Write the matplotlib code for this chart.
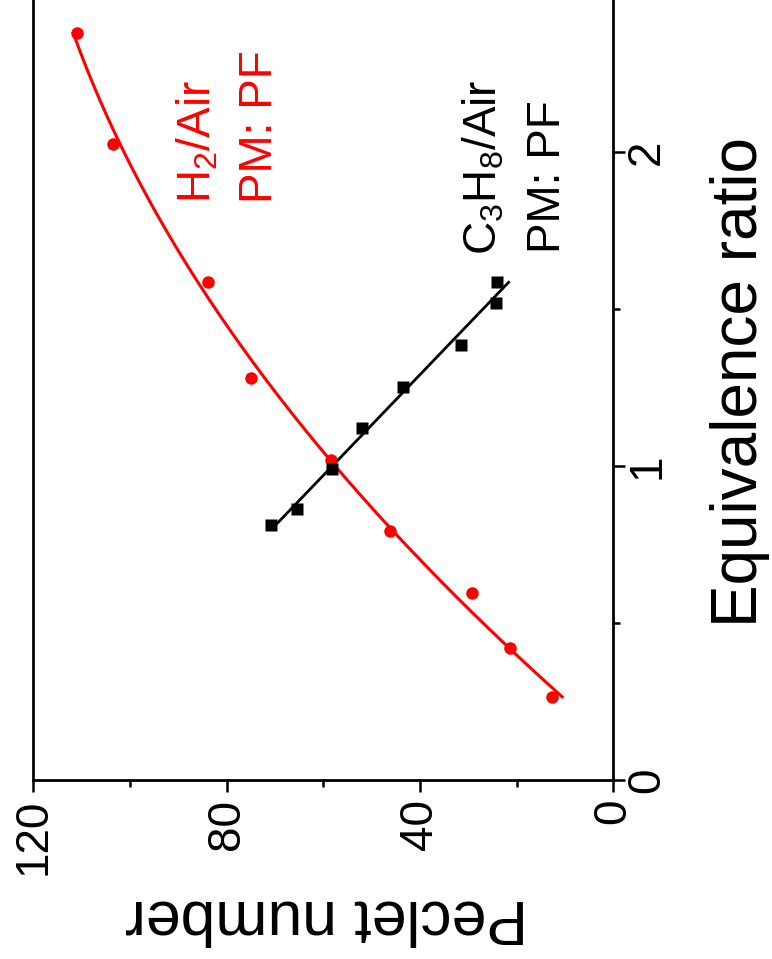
import matplotlib
matplotlib.use("Agg")
import matplotlib.pyplot as plt
import numpy as np
from matplotlib.ticker import MultipleLocator

plt.rcParams['font.family'] = ['Liberation Sans', 'DejaVu Sans']
plt.rcParams['mathtext.fontset'] = 'custom'
plt.rcParams['mathtext.rm'] = 'Liberation Sans'

# H2/Air, porous medium PF
h2_phi = [0.265, 0.419, 0.595, 0.793, 1.019, 1.279, 1.585, 2.025, 2.378]
h2_pe = [12.7, 21.3, 29.3, 46.2, 58.4, 75.0, 83.9, 103.5, 110.9]

# C3H8/Air, porous medium PF
c3_phi = [0.812, 0.863, 0.989, 1.120, 1.252, 1.384, 1.518, 1.585]
c3_pe = [70.9, 65.5, 58.3, 51.9, 43.6, 31.6, 24.3, 24.0]

pe_ticks = [0, 40, 80, 120]
phi_ticks = [0, 1, 2]

fig = plt.figure(figsize=(7.72, 9.59), dpi=100)
ax = fig.add_axes([33.3 / 772, 1 - 780 / 959, 580 / 772, 780 / 959])

# fitted trends
h2_fit = np.polyfit(h2_phi, h2_pe, 2)
phi_h2 = np.linspace(min(h2_phi), max(h2_phi), 200)
ax.plot(np.polyval(h2_fit, phi_h2), phi_h2, color='red', lw=2.2)

c3_fit = np.polyfit(c3_phi, c3_pe, 1)
phi_c3 = np.linspace(min(c3_phi), max(c3_phi), 50)
ax.plot(np.polyval(c3_fit, phi_c3), phi_c3, color='black', lw=2.0)

ax.plot(h2_pe, h2_phi, 'o', color='red', ms=9, mec='none')
ax.plot(c3_pe, c3_phi, 's', color='black', ms=8.4, mec='none')

ax.set_xlim(120, 0)
ax.set_ylim(0, 2.484)

ax.set_xticks(pe_ticks)
ax.xaxis.set_minor_locator(MultipleLocator(20))
ax.set_yticks(phi_ticks)
ax.yaxis.set_minor_locator(MultipleLocator(0.5))
ax.yaxis.tick_right()
ax.yaxis.set_label_position('right')

ax.tick_params(which='both', direction='out', width=1.8, labelsize=33)
ax.tick_params(which='major', length=8.6)
ax.tick_params(which='minor', length=5)
ax.tick_params(axis='x', pad=5)
ax.tick_params(axis='y', pad=0)
plt.setp(ax.get_xticklabels(), rotation=90)
plt.setp(ax.get_yticklabels(), rotation=90, va='center')

ax.spines['top'].set_visible(False)
for side in ['left', 'right', 'bottom']:
    ax.spines[side].set_linewidth(2)

ax.set_xlabel('Peclet number', fontsize=45, rotation=180, va='center')
ax.xaxis.set_label_coords(0.505, -0.176)
ax.set_ylabel('Equivalence ratio', fontsize=46, rotation=90,
              ha='center', va='baseline')
ax.yaxis.set_label_coords(1.248, 0.51)

ax.text(83.4, 1.838, '$\\mathregular{H_2}$/Air', color='red', fontsize=33,
        rotation=90, rotation_mode='anchor', ha='left', va='baseline')
ax.text(70.6, 1.838, 'PM: PF', color='red', fontsize=33,
        rotation=90, rotation_mode='anchor', ha='left', va='baseline')
ax.text(24.1, 1.672, '$\\mathregular{C_3H_8}$/Air', color='black', fontsize=33,
        rotation=90, rotation_mode='anchor', ha='left', va='baseline')
ax.text(11.0, 1.678, 'PM: PF', color='black', fontsize=33,
        rotation=90, rotation_mode='anchor', ha='left', va='baseline')

fig.savefig('out.png', dpi=100)
